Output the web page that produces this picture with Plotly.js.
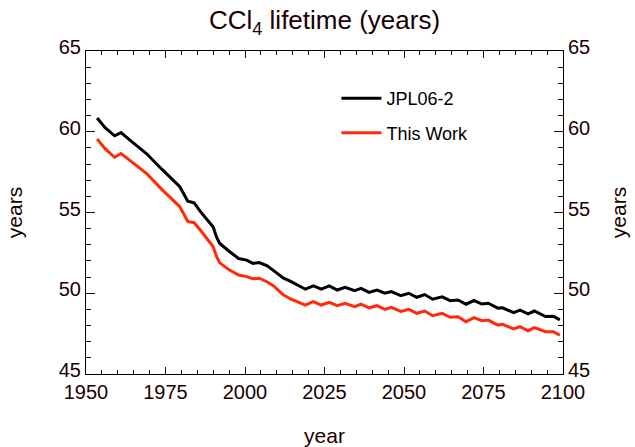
<!DOCTYPE html>
<html>
<head>
<meta charset="utf-8">
<script src="https://cdn.plot.ly/plotly-3.0.1.min.js"></script>
<style>html,body{margin:0;padding:0;background:#fff;}#chart{width:635px;height:447px;}</style>
</head>
<body>
<div id="chart"></div>
<script>
var years = [1953.5, 1956, 1959, 1961, 1964, 1969, 1974, 1979.5, 1982, 1984, 1986, 1988, 1990, 1991, 1992, 1995, 1998, 2000.5, 2002.5, 2004.5, 2007, 2009, 2011, 2012, 2014.5, 2019, 2021.5, 2024, 2026.5, 2029, 2031.5, 2034.5, 2036.5, 2039, 2041.5, 2044, 2046, 2049, 2051.5, 2054, 2056.5, 2059, 2062, 2064.5, 2067, 2069.5, 2072, 2074.5, 2076.5, 2079.5, 2081, 2084.5, 2086.5, 2089, 2091, 2094.5, 2097, 2099];
var jpl06 = [60.85, 60.25, 59.75, 59.95, 59.45, 58.65, 57.65, 56.6, 55.7, 55.6, 55.05, 54.6, 54.1, 53.5, 53.1, 52.6, 52.15, 52.05, 51.85, 51.9, 51.7, 51.4, 51.1, 50.95, 50.72, 50.25, 50.45, 50.25, 50.45, 50.2, 50.37, 50.16, 50.3, 50.05, 50.2, 50.0, 50.1, 49.85, 50.0, 49.75, 49.92, 49.63, 49.78, 49.54, 49.58, 49.32, 49.55, 49.33, 49.38, 49.08, 49.1, 48.8, 48.95, 48.72, 48.9, 48.56, 48.58, 48.35];
var thisWork = [59.55, 58.95, 58.42, 58.65, 58.2, 57.43, 56.4, 55.36, 54.45, 54.37, 53.9, 53.4, 52.88, 52.3, 51.9, 51.45, 51.13, 51.03, 50.9, 50.93, 50.7, 50.45, 50.05, 49.9, 49.63, 49.27, 49.48, 49.27, 49.44, 49.23, 49.38, 49.17, 49.33, 49.1, 49.23, 49.0, 49.13, 48.88, 49.0, 48.76, 48.9, 48.61, 48.76, 48.51, 48.55, 48.24, 48.49, 48.3, 48.34, 48.03, 48.08, 47.79, 47.93, 47.68, 47.87, 47.62, 47.62, 47.4];
var seriesNames = ["JPL06-2", "This Work"];
var xTickVals = [1950, 1975, 2000, 2025, 2050, 2075, 2100];
var yTickVals = [45, 50, 55, 60, 65];

var FONT = "Liberation Sans, Arial, sans-serif";
var TXT = "#1a0000";
var TICK = "#3a0000";

var traces = [
  {x: years, y: jpl06, name: seriesNames[0], type: "scatter", mode: "lines",
   line: {color: "#000000", width: 3}, legendgroup: "a", hoverinfo: "skip"},
  {x: years, y: thisWork, name: seriesNames[1], type: "scatter", mode: "lines",
   line: {color: "#ff2a0a", width: 3}, legendgroup: "b", hoverinfo: "skip"},
  {x: years, y: jpl06, yaxis: "y2", type: "scatter", mode: "lines", opacity: 0,
   showlegend: false, hoverinfo: "skip", line: {width: 0}}
];

var yCommon = {
  range: [45, 65], tickvals: yTickVals, ticks: "inside", ticklen: 9, tickwidth: 1,
  tickcolor: TICK, showgrid: false, zeroline: false, showline: true,
  linecolor: "#000", linewidth: 1, ticklabelshift: -4,
  minor: {dtick: 1, ticks: "inside", ticklen: 5, tickcolor: TICK, showgrid: false},
  tickfont: {family: FONT, size: 20, color: TXT}
};

var layout = {
  width: 635, height: 447,
  margin: {l: 86, r: 72, t: 51, b: 73},
  paper_bgcolor: "#fff", plot_bgcolor: "#fff",
  title: {text: "CCl<sub>4</sub> lifetime (years)", x: 0.511, xanchor: "center", y: 0.955, yanchor: "middle",
          font: {family: FONT, size: 26, color: TXT}},
  xaxis: {
    range: [1950, 2100], tickvals: xTickVals, ticks: "inside", ticklen: 7, tickwidth: 1,
    tickcolor: TICK, mirror: "ticks", showline: true, linecolor: "#000", linewidth: 1,
    showgrid: false, zeroline: false,
    minor: {dtick: 5, tick0: 1950, ticks: "inside", ticklen: 4, tickcolor: TICK, showgrid: false},
    tickfont: {family: FONT, size: 20, color: TXT},
    title: {text: "year", font: {family: FONT, size: 21, color: TXT}, standoff: 26}
  },
  yaxis: Object.assign({}, yCommon, {
    side: "left",
    title: {text: "years", font: {family: FONT, size: 21, color: TXT}, standoff: 30}
  }),
  yaxis2: Object.assign({}, yCommon, {
    side: "right", overlaying: "y",
    title: {text: "years", font: {family: FONT, size: 21, color: TXT}, standoff: 22}
  }),
  legend: {x: 0.525, y: 0.91, xanchor: "left", yanchor: "top", bgcolor: "rgba(0,0,0,0)",
           font: {family: FONT, size: 18, color: "#000"}, traceorder: "grouped", tracegroupgap: 8,
           itemwidth: 40},
  showlegend: true
};

Plotly.newPlot("chart", traces, layout, {displayModeBar: false, staticPlot: true});
</script>
</body>
</html>
